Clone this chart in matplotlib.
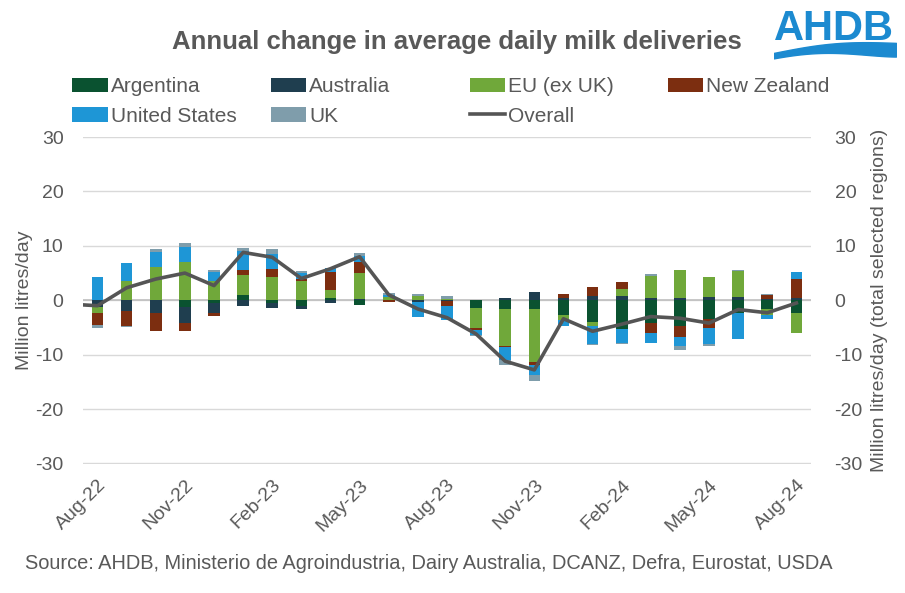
import numpy as np
import matplotlib.pyplot as plt
import pandas as pd

plt.rcParams['font.family'] = ['Liberation Sans', 'DejaVu Sans']
plt.rcParams['axes.unicode_minus'] = False

months = list(pd.date_range('2022-08-01', periods=25, freq='MS').strftime('%b-%y'))

# million litres/day, annual change by region
argentina = [0, 0, 0, -1.2, -0.55, 0.9, -0.5, -1.05, 0.35, -0.8, 0, 0, 0,
             -1.35, -1.6, -1.6, -2.7, -4.05, -5.2, -4.2, -4.7, -3.4, -2.25, -1.65, -2.35]
australia = [-1.2, -1.95, -2.3, -2.9, -1.85, -1.0, -1.0, -0.5, -0.45, 0.25, 0.1, -0.25, -0.2,
             0, 0.45, 1.6, 0.4, 0.8, 0.75, 0.45, 0.45, 0.6, 0.6, 0.15, 0.45]
eu = [-1.2, 3.55, 6.1, 7.0, 3.55, 3.75, 4.3, 3.45, 1.5, 4.85, 0.55, 0.85, 0.25,
      -3.8, -6.75, -9.7, -0.9, -0.75, 1.3, 4.05, 5.1, 3.6, 4.7, -1.0, -3.6]
nz = [-2.2, -2.7, -3.3, -1.6, -0.5, 0.9, 1.4, 0.45, 3.3, 1.9, -0.35, 0, -0.8,
      -0.3, -0.15, -0.55, 0.7, 1.55, 1.3, -1.85, -2.0, -1.7, 0, 0.85, 3.55]
us = [4.3, 3.3, 2.8, 2.7, 1.7, 3.55, 2.8, 1.05, 0.85, 1.2, 0.25, -2.75, -2.7,
      -0.9, -2.45, -1.9, -1.2, -3.2, -2.6, -1.85, -1.65, -2.95, -4.9, -0.85, 1.15]
uk = [-0.55, -0.2, 0.5, 0.85, 0.35, 0.5, 0.9, 0.5, 0, 0.4, 0.5, 0.3, 0.45,
      -0.3, -0.9, -1.05, 0, -0.2, -0.3, 0.3, -0.75, -0.3, 0.2, 0.1, 0]

# overall line, first value is Jul-22 (line runs in from the left edge)
overall = [-0.7, -1.0, 2.3, 3.9, 5.0, 2.7, 8.8, 7.9, 4.0, 5.8, 8.0, 1.0, -1.6, -3.2,
           -6.2, -11.2, -12.8, -3.4, -5.7, -4.4, -3.0, -3.3, -4.2, -1.7, -2.3, -0.5]

series = [('Argentina', argentina, '#0A5230'),
          ('Australia', australia, '#1F3E4F'),
          ('EU (ex UK)', eu, '#70A83A'),
          ('New Zealand', nz, '#7C2E10'),
          ('United States', us, '#1E96D6'),
          ('UK', uk, '#7F9DAB')]

grey = '#595959'
fig = plt.figure(figsize=(9.05, 5.93), dpi=100)
ax = fig.add_axes([0.0917, 0.2175, 0.8044, 0.5523])

x = np.arange(len(months))
pos_bottom = np.zeros(len(months))
neg_bottom = np.zeros(len(months))
handles = {}
for name, vals, col in series:
    v = np.array(vals)
    pos = np.where(v > 0, v, 0)
    neg = np.where(v < 0, v, 0)
    b = ax.bar(x, pos, 0.4, bottom=pos_bottom, color=col, zorder=3)
    ax.bar(x, neg, 0.4, bottom=neg_bottom, color=col, zorder=3)
    pos_bottom += pos
    neg_bottom += neg
    handles[name] = b

ax.set_xlim(-0.5, len(months) - 0.5)
ax.set_ylim(-30.1, 30.1)
ax.set_yticks(range(-30, 31, 10))
ax.grid(axis='y', color='#D9D9D9', lw=1, zorder=0)
ax.axhline(0, color='#BFBFBF', lw=1.2, zorder=2)
for s in ax.spines.values():
    s.set_visible(False)
ax.set_xticks(x[::3])
ax.set_xticklabels(months[::3], rotation=45, ha='right', va='top',
                   rotation_mode='anchor', fontsize=14, color=grey)
ax.tick_params(axis='both', length=0, labelsize=14, labelcolor=grey)
ax.tick_params(axis='y', pad=14)
ax.tick_params(axis='x', pad=9)
ax.set_ylabel('Million litres/day', fontsize=14, color=grey, labelpad=2)

ax2 = ax.twinx()
ax2.set_ylim(-30.1, 30.1)
ax2.set_yticks(range(-30, 31, 10))
for s in ax2.spines.values():
    s.set_visible(False)
ax2.tick_params(axis='y', length=0, labelsize=14, labelcolor=grey, pad=17)
ax2.set_ylabel('Million litres/day (total selected regions)', fontsize=14, color=grey,
               labelpad=6)
line, = ax2.plot(np.arange(-1, len(months)), overall, color='#555555', lw=2.6, zorder=5)
handles['Overall'] = line

# legend laid out in four columns, two rows
cols = [(['Argentina', 'United States'], 0.08),
        (['Australia', 'UK'], 0.299),
        (['EU (ex UK)', 'Overall'], 0.519),
        (['New Zealand'], 0.738)]
for names, xpos in cols:
    fig.legend([handles[n] for n in names], names, loc='upper left',
               bbox_to_anchor=(xpos, 0.87), frameon=False, fontsize=15,
               handlelength=1.7, handleheight=0.7, handletextpad=0.15,
               labelspacing=0.5, borderpad=0, borderaxespad=0, labelcolor=grey)

fig.text(0.505, 0.929, 'Annual change in average daily milk deliveries',
         ha='center', va='center', fontsize=18.5, fontweight='bold', color=grey)
fig.text(0.028, 0.05, 'Source: AHDB, Ministerio de Agroindustria, Dairy Australia, '
         'DCANZ, Defra, Eurostat, USDA', ha='left', va='center', fontsize=14.4, color=grey)

# AHDB logo
fig.text(0.922, 0.918, 'AHDB', ha='center', va='bottom', fontsize=30, fontweight='bold',
         color='#1C8AD0')
lax = fig.add_axes([0.855, 0.9, 0.135, 0.04])
t = np.linspace(0, 1, 80)
top = 0.35 + 0.55 * t + 0.25 * np.sin(np.pi * t)
bot = 0.05 + 0.1 * t + 0.35 * np.sin(np.pi * t) * (1 - t) ** 0.5
lax.fill_between(t, top, bot, color='#1C8AD0')
lax.set_xlim(0, 1)
lax.set_ylim(0, 1.3)
lax.axis('off')

fig.savefig('out.png', dpi=100)
